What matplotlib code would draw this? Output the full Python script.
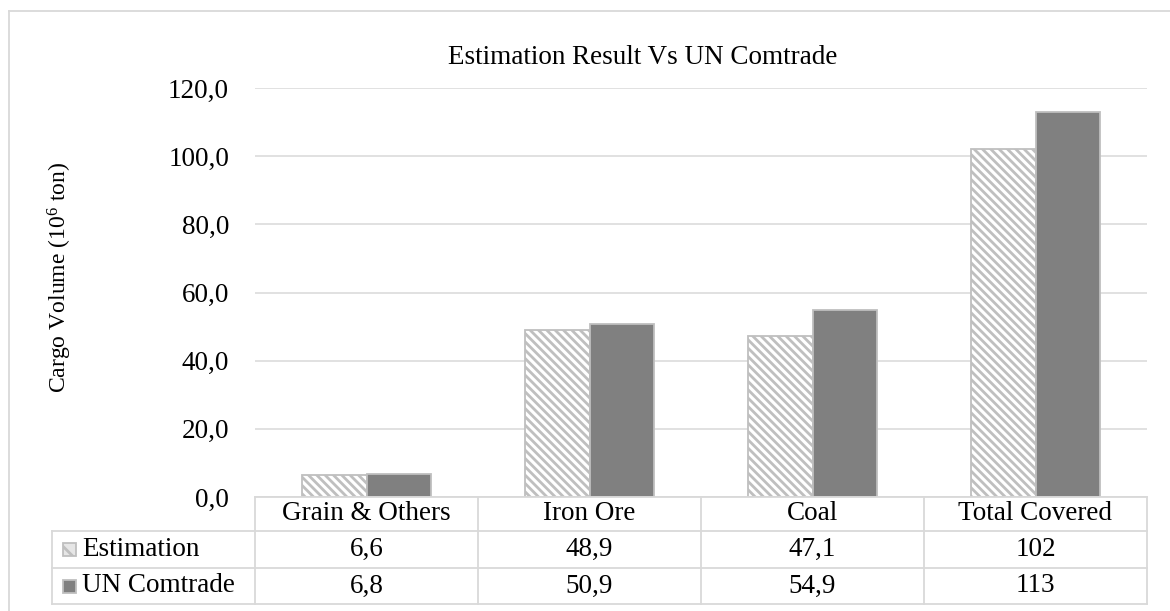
import matplotlib
matplotlib.use("Agg")
import matplotlib.pyplot as plt
from matplotlib.ticker import FuncFormatter
from matplotlib.patches import Rectangle
from matplotlib.lines import Line2D

# ---- data ----
categories = ["Grain & Others", "Iron Ore", "Coal", "Total Covered"]
series_names = ["Estimation", "UN Comtrade"]
estimation = [6.6, 48.9, 47.1, 102]
un_comtrade = [6.8, 50.9, 54.9, 113]
estimation_labels = ["6,6", "48,9", "47,1", "102"]
un_comtrade_labels = ["6,8", "50,9", "54,9", "113"]
title = "Estimation Result Vs UN Comtrade"
ylabel = "Cargo Volume (10$^{\\mathrm{6}}$ ton)"
y_ticks = [0, 20, 40, 60, 80, 100, 120]

# ---- style ----
W, H = 1170, 611
FONT = "Liberation Serif"
FS = 19.5
GRID = "#d9d9d9"
DARK = "#808080"
EDGE = "#bfbfbf"
plt.rcParams["font.family"] = [FONT, "DejaVu Serif"]
plt.rcParams["mathtext.fontset"] = "custom"
plt.rcParams["mathtext.rm"] = FONT
plt.rcParams["mathtext.it"] = FONT + ":italic"
plt.rcParams["hatch.linewidth"] = 2.0
plt.rcParams["hatch.color"] = "#c4c4c4"

fig = plt.figure(figsize=(W / 100, H / 100), dpi=100)


def fx(px):
    return px / W


def fy(py):
    return 1 - py / H


ax_left, ax_right, ax_top, ax_bottom = 255, 1147, 88, 497
ax = fig.add_axes([fx(ax_left), fy(ax_bottom), fx(ax_right - ax_left), fy(ax_top) - fy(ax_bottom)])

x = list(range(len(categories)))
bw = 0.287
ax.bar([i - bw / 2 for i in x], estimation, width=bw, facecolor="white",
       edgecolor=EDGE, hatch="\\\\\\\\", linewidth=1.3, zorder=3)
ax.bar([i + bw / 2 for i in x], un_comtrade, width=bw, facecolor=DARK,
       edgecolor=EDGE, linewidth=1.3, zorder=3)

ax.set_xlim(-0.5, len(categories) - 0.5)
ax.set_ylim(0, 120)
ax.set_yticks(y_ticks)
ax.yaxis.set_major_formatter(FuncFormatter(lambda v, p: f"{v:.1f}".replace(".", ",")))
ax.tick_params(axis="y", length=0, pad=18.7, labelsize=FS, colors="#000000")
ax.set_xticks([])
ax.grid(axis="y", color=GRID, linewidth=1.1, zorder=0)
for s in ax.spines.values():
    s.set_visible(False)

# ---- title and axis label ----
fig.text(fx(643), fy(64), title, ha="center", va="baseline", fontsize=FS)
fig.text(fx(60), fy(277), ylabel, ha="center", va="center", rotation=90, fontsize=17)

# ---- outer chart border ----
fig.add_artist(Line2D([fx(9), fx(1170)], [fy(11), fy(11)], color=GRID, lw=1.3))
fig.add_artist(Line2D([fx(9), fx(9)], [fy(11), fy(611)], color=GRID, lw=1.3))

# ---- data table ----
rows_y = [497, 531, 568, 604]
label_left = 52
ncol = len(categories)
colw = (ax_right - ax_left) / ncol
col_x = [ax_left + k * colw for k in range(ncol + 1)]


def hline(x0, x1, y):
    fig.add_artist(Line2D([fx(x0), fx(x1)], [fy(y), fy(y)], color=GRID, lw=1.3))


def vline(xp, y0, y1):
    fig.add_artist(Line2D([fx(xp), fx(xp)], [fy(y0), fy(y1)], color=GRID, lw=1.3))


hline(ax_left, ax_right, rows_y[0])
for yy in rows_y[1:]:
    hline(label_left, ax_right, yy)
for xp in col_x:
    vline(xp, rows_y[0], rows_y[3])
vline(label_left, rows_y[1], rows_y[3])

for k, cat in enumerate(categories):
    cx = (col_x[k] + col_x[k + 1]) / 2
    fig.text(fx(cx), fy((rows_y[0] + rows_y[1]) / 2), cat, ha="center", va="center", fontsize=FS)
    fig.text(fx(cx), fy((rows_y[1] + rows_y[2]) / 2), estimation_labels[k], ha="center", va="center", fontsize=FS)
    fig.text(fx(cx), fy((rows_y[2] + rows_y[3]) / 2), un_comtrade_labels[k], ha="center", va="center", fontsize=FS)

# legend keys and row labels
key = 13
for r, name in enumerate(series_names):
    cy = (rows_y[r + 1] + rows_y[r + 2]) / 2
    if r == 0:
        p = Rectangle((fx(63), fy(cy + key / 2)), fx(key), fy(0) - fy(key), transform=fig.transFigure,
                      facecolor="#e6e6e6", edgecolor=EDGE, hatch="\\\\", linewidth=1.3)
    else:
        p = Rectangle((fx(63), fy(cy + key / 2)), fx(key), fy(0) - fy(key), transform=fig.transFigure,
                      facecolor=DARK, edgecolor=EDGE, linewidth=1.3)
    fig.add_artist(p)
    fig.text(fx(82), fy(cy), name, ha="left", va="center", fontsize=FS)

fig.savefig("out.png", dpi=100, facecolor="white")
